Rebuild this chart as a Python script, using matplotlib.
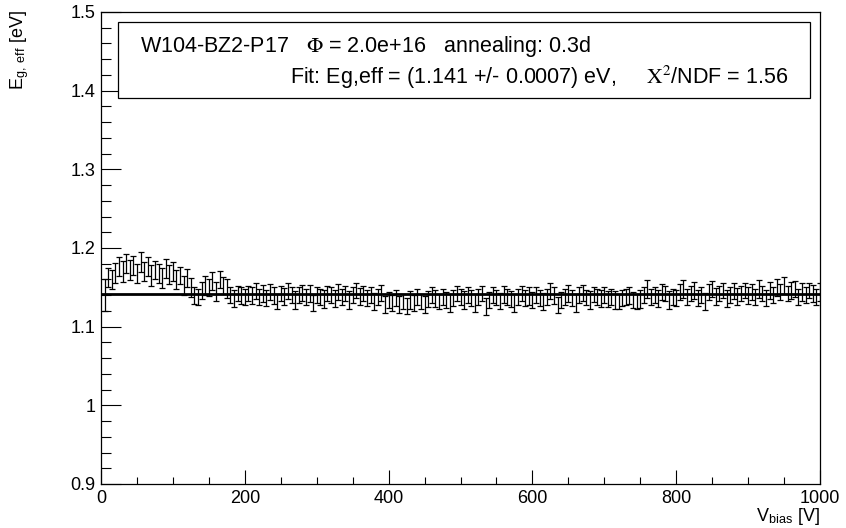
import numpy as np
import matplotlib.pyplot as plt
from matplotlib.ticker import MultipleLocator

plt.rcParams['font.family'] = ['Liberation Sans', 'DejaVu Sans']
plt.rcParams['mathtext.fontset'] = 'stix'

# bias voltage [V]
v_bias = np.arange(5, 1001, 5)

# effective band gap [eV]
eg_eff = [
    1.140, 1.162, 1.160, 1.168, 1.176, 1.170, 1.180, 1.172, 1.178, 1.168,
    1.182, 1.170, 1.176, 1.165, 1.172, 1.168, 1.162, 1.174, 1.166, 1.170,
    1.160, 1.165, 1.152, 1.162, 1.150, 1.140, 1.138, 1.146, 1.152, 1.150,
    1.158, 1.145, 1.160, 1.152, 1.148, 1.140, 1.136, 1.142, 1.140, 1.138,
    1.142, 1.140, 1.145, 1.138, 1.142, 1.136, 1.144, 1.140, 1.132, 1.142,
    1.138, 1.145, 1.140, 1.134, 1.140, 1.143, 1.138, 1.142, 1.130, 1.140,
    1.138, 1.135, 1.142, 1.140, 1.136, 1.144, 1.138, 1.142, 1.134, 1.140,
    1.146, 1.138, 1.142, 1.136, 1.140, 1.132, 1.138, 1.143, 1.128, 1.134,
    1.130, 1.136, 1.128, 1.132, 1.126, 1.134, 1.130, 1.138, 1.132, 1.128,
    1.135, 1.140, 1.136, 1.132, 1.138, 1.134, 1.130, 1.136, 1.142, 1.138,
    1.134, 1.140, 1.136, 1.130, 1.138, 1.142, 1.126, 1.134, 1.140, 1.137,
    1.133, 1.141, 1.138, 1.135, 1.130, 1.138, 1.142, 1.136, 1.139, 1.134,
    1.140, 1.136, 1.132, 1.138, 1.145, 1.140, 1.128, 1.134, 1.138, 1.142,
    1.136, 1.130, 1.140, 1.143, 1.137, 1.134, 1.141, 1.138, 1.136, 1.140,
    1.135, 1.138, 1.134, 1.132, 1.136, 1.138, 1.140, 1.134, 1.132, 1.135,
    1.140, 1.148, 1.138, 1.140, 1.136, 1.144, 1.142, 1.134, 1.138, 1.136,
    1.144, 1.148, 1.138, 1.142, 1.146, 1.136, 1.140, 1.132, 1.144, 1.148,
    1.138, 1.142, 1.146, 1.136, 1.140, 1.145, 1.138, 1.142, 1.146, 1.140,
    1.144, 1.138, 1.148, 1.142, 1.136, 1.146, 1.140, 1.150, 1.144, 1.152,
    1.142, 1.146, 1.148, 1.138, 1.144, 1.140, 1.146, 1.142, 1.138, 1.144,
]

# uncertainties [eV]
eg_err = [
    0.020, 0.012, 0.012, 0.013, 0.012, 0.013, 0.012, 0.013, 0.012, 0.012,
    0.013, 0.012, 0.012, 0.013, 0.012, 0.012, 0.013, 0.012, 0.012, 0.012,
    0.012, 0.011, 0.012, 0.011, 0.012, 0.011, 0.010, 0.011, 0.012, 0.011,
    0.011, 0.012, 0.011, 0.011, 0.012, 0.010, 0.011, 0.010, 0.011, 0.010,
    0.010, 0.011, 0.010, 0.010, 0.011, 0.010, 0.010, 0.011, 0.010, 0.010,
    0.011, 0.010, 0.010, 0.011, 0.010, 0.010, 0.010, 0.011, 0.010, 0.010,
    0.010, 0.011, 0.010, 0.010, 0.011, 0.010, 0.010, 0.010, 0.011, 0.010,
    0.010, 0.011, 0.010, 0.010, 0.010, 0.011, 0.010, 0.010, 0.011, 0.010,
    0.010, 0.010, 0.011, 0.010, 0.010, 0.011, 0.010, 0.010, 0.010, 0.011,
    0.010, 0.010, 0.011, 0.010, 0.010, 0.010, 0.011, 0.010, 0.010, 0.010,
    0.011, 0.010, 0.010, 0.011, 0.010, 0.010, 0.011, 0.010, 0.010, 0.010,
    0.010, 0.011, 0.010, 0.010, 0.011, 0.010, 0.010, 0.010, 0.011, 0.010,
    0.010, 0.010, 0.011, 0.010, 0.010, 0.011, 0.010, 0.010, 0.010, 0.011,
    0.010, 0.011, 0.010, 0.010, 0.010, 0.011, 0.010, 0.010, 0.011, 0.010,
    0.010, 0.010, 0.011, 0.010, 0.010, 0.010, 0.011, 0.010, 0.010, 0.011,
    0.010, 0.011, 0.010, 0.010, 0.011, 0.010, 0.010, 0.011, 0.010, 0.010,
    0.010, 0.011, 0.010, 0.010, 0.011, 0.010, 0.010, 0.011, 0.010, 0.010,
    0.011, 0.010, 0.010, 0.011, 0.010, 0.010, 0.011, 0.010, 0.010, 0.011,
    0.010, 0.010, 0.011, 0.010, 0.010, 0.011, 0.010, 0.011, 0.010, 0.011,
    0.010, 0.011, 0.010, 0.010, 0.011, 0.010, 0.010, 0.011, 0.010, 0.011,
]

fit_value = 1.141

fig = plt.figure(figsize=(8.46, 5.28), dpi=100)
ax = fig.add_axes([101/846, 1 - 484/528, 719/846, 472/528])

ax.errorbar(v_bias, eg_eff, yerr=eg_err, fmt='none', ecolor='black',
            elinewidth=0.9, capsize=2.5, capthick=0.9)
ax.plot([0, 1000], [fit_value, fit_value], color='black', lw=2)

ax.set_xlim(0, 1000)
ax.set_ylim(0.9, 1.5)
ax.xaxis.set_major_locator(MultipleLocator(200))
ax.xaxis.set_minor_locator(MultipleLocator(50))
ax.yaxis.set_minor_locator(MultipleLocator(0.02))
ax.set_yticks([0.9, 1.0, 1.1, 1.2, 1.3, 1.4, 1.5])
ax.set_yticklabels(['0.9', '1', '1.1', '1.2', '1.3', '1.4', '1.5'])
ax.tick_params(axis='both', which='both', direction='in', labelsize=13,
               width=0.8, top=False, right=False)
ax.tick_params(axis='x', which='major', length=10, pad=4)
ax.tick_params(axis='x', which='minor', length=5)
ax.tick_params(axis='y', which='major', length=14.5, pad=4)
ax.tick_params(axis='y', which='minor', length=7.2)
for s in ax.spines.values():
    s.set_linewidth(0.9)

fig.text(820/846, 1 - 527/528, r'V$_{\mathregular{bias}}$ [V]', ha='right',
         va='bottom', fontsize=13)
fig.text(8/846, 1 - 10/528, r'E$_{\mathregular{g,\ eff}}$ [eV]', ha='left',
         va='top', rotation=90, fontsize=13)

# info box
box = plt.Rectangle((118/846, 1 - 98/528), 692/846, 76/528, transform=fig.transFigure,
                    fill=True, facecolor='white', edgecolor='black', lw=0.9)
fig.add_artist(box)
fig.text(140/846, 1 - 52/528, r'W104-BZ2-P17   $\Phi$ = 2.0e+16   annealing: 0.3d',
         ha='left', va='baseline', fontsize=15.5)
fig.text(788/846, 1 - 84/528,
         r'Fit: Eg,eff = (1.141 +/- 0.0007) eV,     $\mathrm{X}^{2}$/NDF = 1.56',
         ha='right', va='baseline', fontsize=15.5)

fig.savefig('out.png', dpi=100)
